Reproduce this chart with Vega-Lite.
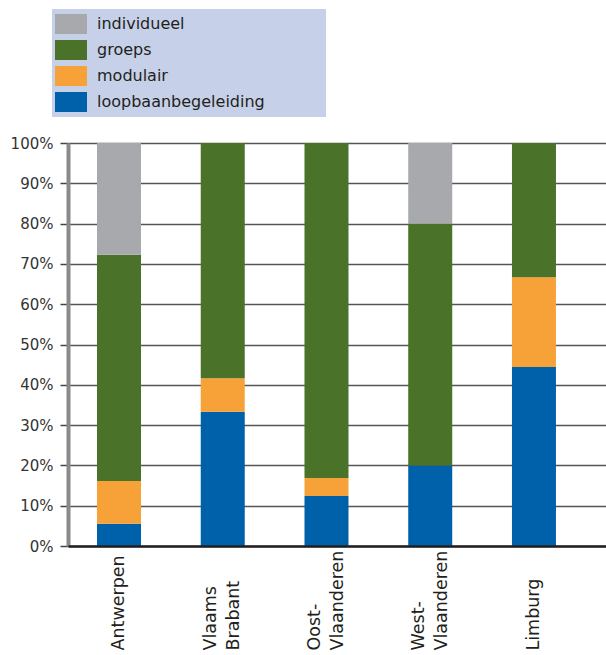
{
  "$schema": "https://vega.github.io/schema/vega-lite/v6.json",
  "width": 538,
  "height": 403,
  "autosize": "none",
  "padding": {"left": 68, "top": 143, "right": 0, "bottom": 109},
  "background": "white",
  "config": {
    "view": {"stroke": null},
    "font": "DejaVu Sans"
  },
  "data": {
    "values": [
      {"regio": "Antwerpen", "type": "loopbaanbegeleiding", "waarde": 5.5},
      {"regio": "Antwerpen", "type": "modulair", "waarde": 10.6},
      {"regio": "Antwerpen", "type": "groeps", "waarde": 56.2},
      {"regio": "Antwerpen", "type": "individueel", "waarde": 27.7},
      {"regio": "Vlaams Brabant", "type": "loopbaanbegeleiding", "waarde": 33.3},
      {"regio": "Vlaams Brabant", "type": "modulair", "waarde": 8.3},
      {"regio": "Vlaams Brabant", "type": "groeps", "waarde": 58.4},
      {"regio": "Oost-Vlaanderen", "type": "loopbaanbegeleiding", "waarde": 12.4},
      {"regio": "Oost-Vlaanderen", "type": "modulair", "waarde": 4.5},
      {"regio": "Oost-Vlaanderen", "type": "groeps", "waarde": 83.1},
      {"regio": "West-Vlaanderen", "type": "loopbaanbegeleiding", "waarde": 20},
      {"regio": "West-Vlaanderen", "type": "groeps", "waarde": 60},
      {"regio": "West-Vlaanderen", "type": "individueel", "waarde": 20},
      {"regio": "Limburg", "type": "loopbaanbegeleiding", "waarde": 44.4},
      {"regio": "Limburg", "type": "modulair", "waarde": 22.3},
      {"regio": "Limburg", "type": "groeps", "waarde": 33.3}
    ]
  },
  "transform": [
    {"calculate": "indexof(['loopbaanbegeleiding','modulair','groeps','individueel'], datum.type)", "as": "volgorde"}
  ],
  "mark": {"type": "bar", "size": 44},
  "encoding": {
    "x": {
      "field": "regio",
      "type": "nominal",
      "sort": ["Antwerpen", "Vlaams Brabant", "Oost-Vlaanderen", "West-Vlaanderen", "Limburg"],
      "scale": {"paddingInner": 0.576, "paddingOuter": 0.381, "align": 0.367},
      "axis": {
        "title": null,
        "labelAngle": -90,
        "labelAlign": "left",
        "labelFontSize": 17.5,
        "labelColor": "#231f20",
        "labelPadding": 104,
        "labelLineHeight": 23,
        "labelOffset": {"condition": {"test": "indexof(['Vlaams Brabant','Oost-Vlaanderen','West-Vlaanderen'], datum.value) >= 0", "value": -11.5}, "value": 0},
        "labelExpr": "datum.label == 'Vlaams Brabant' ? ['Vlaams', 'Brabant'] : datum.label == 'Oost-Vlaanderen' ? ['Oost-', 'Vlaanderen'] : datum.label == 'West-Vlaanderen' ? ['West-', 'Vlaanderen'] : datum.label",
        "ticks": false,
        "domainColor": "#231f20",
        "domainWidth": 2.5,
        "zindex": 1
      }
    },
    "y": {
      "field": "waarde",
      "type": "quantitative",
      "stack": "normalize",
      "scale": {"domain": [0, 1]},
      "axis": {
        "title": null,
        "format": ".0%",
        "values": [0, 0.1, 0.2, 0.3, 0.4, 0.5, 0.6, 0.7, 0.8, 0.9, 1],
        "labelOverlap": false,
        "labelFontSize": 15,
        "labelColor": "#333333",
        "labelPadding": 7,
        "tickSize": 8,
        "tickColor": "#444444",
        "tickWidth": 1.5,
        "grid": true,
        "gridColor": "#555555",
        "gridWidth": 1.5,
        "domainColor": "#8a8a8a",
        "domainWidth": 4
      }
    },
    "color": {
      "field": "type",
      "type": "nominal",
      "scale": {
        "domain": ["individueel", "groeps", "modulair", "loopbaanbegeleiding"],
        "range": ["#a8a9ad", "#4a7229", "#f7a238", "#0061ab"]
      },
      "legend": {
        "title": null,
        "orient": "none",
        "legendX": -16,
        "legendY": -134,
        "fillColor": "#c6d1e9",
        "padding": 5,
        "symbolType": "M-1.6,-1H1.6V1H-1.6Z",
        "symbolSize": 400,
        "symbolStrokeWidth": 0,
        "symbolOpacity": 1,
        "symbolOffset": 4,
        "labelOffset": 16,
        "rowPadding": 6,
        "labelFontSize": 16,
        "labelColor": "#231f20",
        "labelLimit": 400,
        "labelExpr": "datum.label == 'loopbaanbegeleiding' ? datum.label + '\u00a0\u00a0\u00a0\u00a0\u00a0\u00a0\u00a0\u00a0\u00a0\u00a0\u00a0\u200d' : datum.label"
      }
    },
    "order": {"field": "volgorde", "type": "quantitative", "sort": "ascending"}
  }
}
